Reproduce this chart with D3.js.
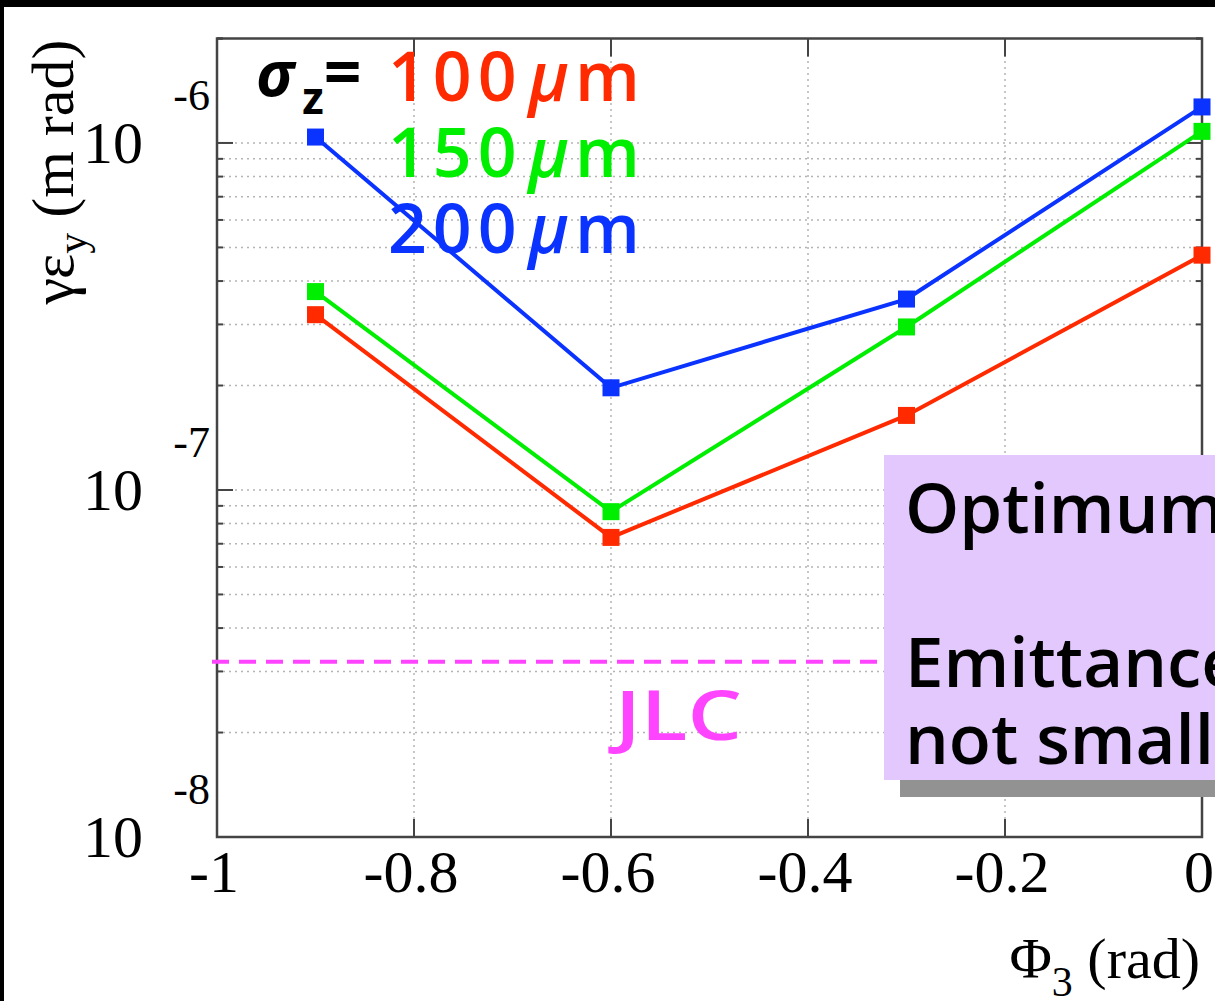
<!DOCTYPE html>
<html>
<head>
<meta charset="utf-8">
<script src="https://cdn.jsdelivr.net/npm/d3@7"></script>
<style>
  body { margin: 0; background: #fff; }
  svg { display: block; }
</style>
</head>
<body>
<svg id="chart"></svg>
<script>
// phase of the 3rd rf section vs vertical emittance
const phi = [-0.9, -0.6, -0.3, 0];
const sigma100 = [3.2e-7, 7.3e-8, 1.64e-7, 4.75e-7];
const sigma150 = [3.73e-7, 8.66e-8, 2.95e-7, 1.08e-6];
const sigma200 = [1.04e-6, 1.97e-7, 3.55e-7, 1.27e-6];
const jlcLevel = 3.2e-8;
const xTicks = [-1, -0.8, -0.6, -0.4, -0.2, 0];
const yDecades = [1e-8, 1e-7, 1e-6];
const seriesNames = ['100', '150', '200'];
const seriesColors = ['#ff2a00', '#00ee00', '#0a33ff'];

const width = 1215;
const height = 1001;
const margin = {left: 217, right: 13, top: 38.5, bottom: 164};

const svg = d3.select('#chart')
  .attr('width', width)
  .attr('height', height);

svg.append('rect').attr('width', width).attr('height', height).attr('fill', '#fff');
// black frame of the slide
svg.append('rect').attr('width', width).attr('height', 7).attr('fill', '#000');
svg.append('rect').attr('width', 4).attr('height', height).attr('fill', '#000');

const x = d3.scaleLinear()
  .domain([-1, 0])
  .range([margin.left, width - margin.right]);

const y = d3.scaleLog()
  .domain([1e-8, 2e-6])
  .range([height - margin.bottom, margin.top]);

const x0 = x.range()[0], x1 = x.range()[1];
const y0 = y.range()[0], y1 = y.range()[1];

// minor log ticks
const yMinor = [];
yDecades.forEach(d => {
  for (let k = 1; k <= 9; k++) {
    const v = d * k;
    if (v <= y.domain()[1]) yMinor.push(v);
  }
});
yMinor.push(2e-6);

const grid = svg.append('g')
  .attr('stroke', '#b4b4b4')
  .attr('stroke-width', 1.5)
  .attr('stroke-dasharray', '2,4');

grid.selectAll('.hgrid')
  .data(yMinor.filter(v => v > 1e-8 && v < 2e-6))
  .enter().append('line')
  .attr('x1', x0).attr('x2', x1)
  .attr('y1', d => y(d)).attr('y2', d => y(d));

grid.selectAll('.vgrid')
  .data(xTicks.slice(1, -1))
  .enter().append('line')
  .attr('x1', d => x(d)).attr('x2', d => x(d))
  .attr('y1', y0).attr('y2', y1);

// axes: ticks on all four sides
const axisColor = '#444';
const axes = svg.append('g').attr('stroke', axisColor).attr('stroke-width', 2);

axes.selectAll('.yl')
  .data(yMinor)
  .enter().append('line')
  .attr('x1', x0).attr('x2', d => x0 + (yDecades.includes(d) ? 16 : 6))
  .attr('y1', d => y(d)).attr('y2', d => y(d));
axes.selectAll('.yr')
  .data(yMinor)
  .enter().append('line')
  .attr('x1', x1).attr('x2', d => x1 - (yDecades.includes(d) ? 16 : 6))
  .attr('y1', d => y(d)).attr('y2', d => y(d));
axes.selectAll('.xb')
  .data(xTicks)
  .enter().append('line')
  .attr('x1', d => x(d)).attr('x2', d => x(d))
  .attr('y1', y0).attr('y2', y0 - 18);
axes.selectAll('.xt')
  .data(xTicks)
  .enter().append('line')
  .attr('x1', d => x(d)).attr('x2', d => x(d))
  .attr('y1', y1).attr('y2', y1 + 18);

svg.append('rect')
  .attr('x', x0).attr('y', y1)
  .attr('width', x1 - x0).attr('height', y0 - y1)
  .attr('fill', 'none')
  .attr('stroke', axisColor)
  .attr('stroke-width', 2.5);

// tick labels
const serif = "'Liberation Serif', 'Times New Roman', serif";
svg.append('g')
  .selectAll('text')
  .data(xTicks)
  .enter().append('text')
  .attr('x', d => x(d) - 3)
  .attr('y', 892)
  .attr('text-anchor', 'middle')
  .attr('font-family', serif)
  .attr('font-size', 60)
  .text(d => d3.format('')(d).replace('−', '-'));

const yLab = svg.append('g').attr('font-family', serif);
yLab.selectAll('.base')
  .data(yDecades)
  .enter().append('text')
  .attr('x', 143).attr('y', d => y(d) + 20)
  .attr('text-anchor', 'end')
  .attr('font-size', 60)
  .text('10');
yLab.selectAll('.exp')
  .data(yDecades)
  .enter().append('text')
  .attr('x', 210).attr('y', d => y(d) - 33)
  .attr('text-anchor', 'end')
  .attr('font-size', 44)
  .text(d => '-' + Math.round(-Math.log10(d)));

// axis titles
const yTitle = svg.append('text')
  .attr('transform', 'translate(73,172) rotate(-90)')
  .attr('text-anchor', 'middle')
  .attr('font-family', serif)
  .attr('font-size', 60);
yTitle.append('tspan').text('γε');
yTitle.append('tspan').attr('dy', 13).attr('font-size', 42).text('y');
yTitle.append('tspan').attr('dy', -13).text(' (m rad)');

const xTitle = svg.append('text')
  .attr('x', 1200).attr('y', 978)
  .attr('text-anchor', 'end')
  .attr('font-family', serif)
  .attr('font-size', 58);
xTitle.append('tspan').text('Φ');
xTitle.append('tspan').attr('dy', 18).attr('font-size', 42).text('3');
xTitle.append('tspan').attr('dy', -18).text(' (rad)');

// JLC reference line
svg.append('line')
  .attr('x1', x0 - 5).attr('x2', x1)
  .attr('y1', y(jlcLevel)).attr('y2', y(jlcLevel))
  .attr('stroke', '#ff44ff')
  .attr('stroke-width', 4)
  .attr('stroke-dasharray', '17,10');

const sans = "'Open Sans', 'Noto Sans', sans-serif";
svg.append('text')
  .attr('x', 615).attr('y', 740)
  .attr('font-family', sans)
  .attr('font-size', 68)
  .attr('font-weight', 600)
  .attr('fill', '#ff44ff')
  .attr('textLength', 127)
  .attr('lengthAdjust', 'spacingAndGlyphs')
  .text('JLC');

// series
const series = [sigma100, sigma150, sigma200];
const line = d3.line()
  .x((d, i) => x(phi[i]))
  .y(d => y(d));

series.forEach((vals, s) => {
  const g = svg.append('g');
  g.append('path')
    .attr('d', line(vals))
    .attr('fill', 'none')
    .attr('stroke', seriesColors[s])
    .attr('stroke-width', 4);
  g.selectAll('rect')
    .data(vals)
    .enter().append('rect')
    .attr('x', (d, i) => x(phi[i]) - 8.5)
    .attr('y', d => y(d) - 8.5)
    .attr('width', 17)
    .attr('height', 17)
    .attr('fill', seriesColors[s]);
});

// legend
const sig = svg.append('text')
  .attr('x', 256).attr('y', 96)
  .attr('font-family', sans)
  .attr('font-weight', 'bold');
sig.append('tspan').attr('font-size', 62).attr('font-style', 'italic').text('σ');
sig.append('tspan').attr('dx', 8).attr('dy', 18).attr('font-size', 44).text('z');
sig.append('tspan').attr('dy', -18).attr('font-size', 66).text('=');

const legend = svg.append('g')
  .selectAll('text')
  .data(seriesNames)
  .enter().append('text')
  .attr('x', 640)
  .attr('y', (d, i) => 101 + i * 76)
  .attr('text-anchor', 'end')
  .attr('font-family', sans)
  .attr('font-size', 68)
  .attr('font-weight', 600)
  .attr('fill', (d, i) => seriesColors[i]);
legend.append('tspan').attr('letter-spacing', 6).text(d => d);
legend.append('tspan').attr('dx', 6).attr('font-style', 'italic').text('μ');
legend.append('tspan').attr('dx', 6).text('m');

// note box
svg.append('rect')
  .attr('x', 900).attr('y', 471)
  .attr('width', 330).attr('height', 326)
  .attr('fill', '#929292');
svg.append('rect')
  .attr('x', 884).attr('y', 455)
  .attr('width', 340).attr('height', 325)
  .attr('fill', '#e2c8fc');

const note = svg.append('text')
  .attr('font-family', sans)
  .attr('font-size', 69)
  .attr('font-weight', 600)
  .attr('fill', '#000');
note.append('tspan').attr('x', 905).attr('y', 533).text('Optimum');
note.append('tspan').attr('x', 905).attr('y', 687).text('Emittance');
note.append('tspan').attr('x', 905).attr('y', 764).text('not small');
</script>
</body>
</html>
